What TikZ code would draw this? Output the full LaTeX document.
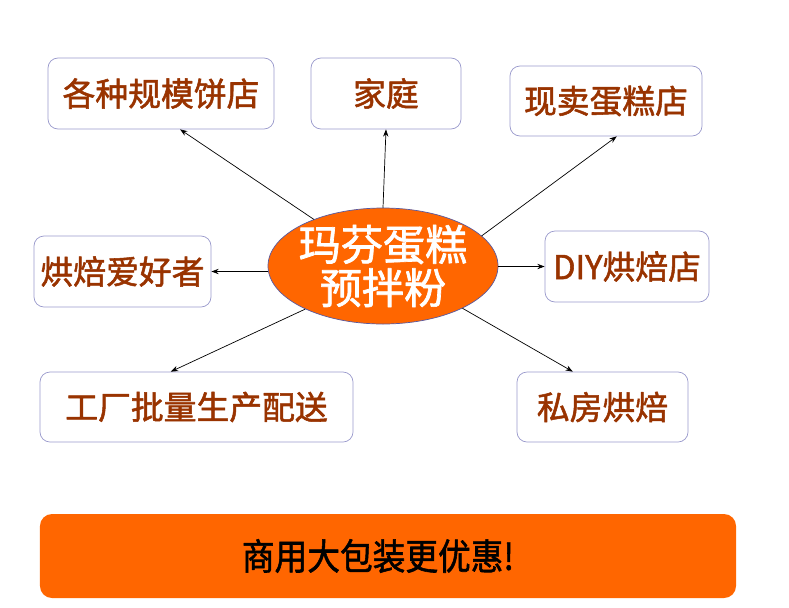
\documentclass[tikz,border=0pt]{standalone}
\usepackage{fontspec}
\setmainfont{Noto Sans CJK SC}
\newfontfamily\heavyfont[FakeBold=1.6]{Noto Sans CJK SC}
\usetikzlibrary{shapes.geometric,arrows.meta}
\definecolor{cakeorange}{HTML}{FF6600}
\definecolor{boxline}{HTML}{9999CC}
\definecolor{boxtext}{HTML}{993300}
\definecolor{ringline}{HTML}{5A5AA0}

\tikzset{
  target/.style={draw=boxline,line width=0.6pt,rounded corners=0.3cm,fill=white,
    text=boxtext,font=\heavyfont\fontsize{28}{32}\selectfont,inner sep=0pt},
  feed/.style={-{Stealth[length=2.2mm,width=1.6mm]},line width=0.6pt,black},
}

\begin{document}
\begin{tikzpicture}[x=0.03cm,y=-0.03cm,line cap=round,line join=round]
  \useasboundingbox (0,0) rectangle (789,607);
  \node[ellipse,draw=ringline,line width=0.6pt,fill=cakeorange,text=white,
    minimum width=6.9cm,minimum height=3.48cm,inner sep=-0.3cm,align=center,
    font=\heavyfont\fontsize{36}{37}\selectfont] (mix) at (383,266) {玛芬蛋糕\\预拌粉};
  \node[target,minimum width=6.78cm,minimum height=2.13cm] (shops) at (161,93.5) {各种规模饼店};
  \node[target,minimum width=4.5cm,minimum height=2.13cm] (home) at (386,93.5) {家庭};
  \node[target,minimum width=5.76cm,minimum height=2.1cm] (fresh) at (606,101) {现卖蛋糕店};
  \node[target,minimum width=5.31cm,minimum height=2.13cm] (fans) at (122.5,271.5) {烘焙爱好者};
  \node[target,minimum width=4.92cm,minimum height=2.13cm] (diy) at (627,266.5) {DIY烘焙店};
  \node[target,minimum width=9.39cm,minimum height=2.1cm] (plant) at (196.5,407) {工厂批量生产配送};
  \node[target,minimum width=5.13cm,minimum height=2.1cm] (private) at (602.5,407) {私房烘焙};

  \draw[feed] (mix.146.7) -- (shops.-62);
  \draw[feed] (mix.north) -- (home.south);
  \draw[feed] (mix.17.7) -- (fresh.-73);
  \draw[feed] (mix.west |- fans.east) -- (fans.east);
  \draw[feed] (mix.east |- diy.west) -- (diy.west);
  \draw[feed] (mix.-151.7) -- (plant.126);
  \draw[feed] (mix.-28.6) -- (private.130);

  \node[fill=cakeorange,rounded corners=0.36cm,minimum width=20.88cm,minimum height=2.52cm,
    font=\heavyfont\fontsize{31}{34}\selectfont] (bulk) at (388,556)
    {\hspace*{-0.6cm}\scalebox{0.9}[1]{商用大包装更优惠!}};
\end{tikzpicture}
\end{document}
